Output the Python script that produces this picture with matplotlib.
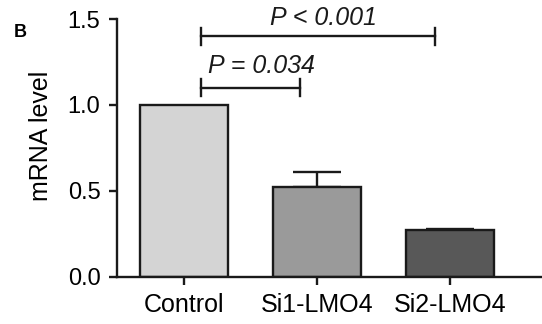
import numpy as np
import matplotlib.pyplot as plt

plt.rcParams['font.family'] = ['Liberation Sans', 'DejaVu Sans']

# data
groups = ['Control', 'Si1-LMO4', 'Si2-LMO4']
mrna = [1.0, 0.52, 0.273]
err = [0.0, 0.09, 0.004]
bar_colors = ['#d4d4d4', '#9a9a9a', '#585858']

# significance brackets: (x1, x2, y, label)
brackets = [(0.13, 0.87, 1.10, 'P = 0.034'),
            (0.13, 1.89, 1.40, 'P < 0.001')]

fig = plt.figure(figsize=(5.42, 3.24), dpi=100)
ax = fig.add_axes([0.216, 0.146, 0.784, 0.795])

x = np.arange(len(groups))
ax.bar(x, mrna, width=0.66, color=bar_colors, edgecolor='#1a1a1a',
       linewidth=1.7, zorder=2)
ax.errorbar(x[1:], mrna[1:], yerr=[np.zeros(2), err[1:]], fmt='none',
            ecolor='#1a1a1a', elinewidth=1.7, capsize=17, capthick=1.7, zorder=1)

for x1, x2, y, lab in brackets:
    ax.plot([x1, x2], [y, y], color='#1a1a1a', lw=1.7, clip_on=False)
    ax.plot([x1, x1], [y - 0.05, y + 0.05], color='#1a1a1a', lw=1.7, clip_on=False)
    ax.plot([x2, x2], [y - 0.05, y + 0.05], color='#1a1a1a', lw=1.7, clip_on=False)

ax.text(0.584, 1.186, brackets[0][3], ha='center', va='baseline',
        fontsize=18, style='italic', color='#1a1a1a')
ax.text(1.05, 1.463, brackets[1][3], ha='center', va='baseline',
        fontsize=18, style='italic', color='#1a1a1a')

ax.set_xlim(-0.5, 2.69)
ax.set_ylim(0, 1.5)
ax.set_yticks([0.0, 0.5, 1.0, 1.5])
ax.set_yticklabels(['0.0', '0.5', '1.0', '1.5'])
ax.set_xticks(x)
ax.set_xticklabels(groups)

for s in ['top', 'right']:
    ax.spines[s].set_visible(False)
for s in ['left', 'bottom']:
    ax.spines[s].set_linewidth(1.7)
    ax.spines[s].set_color('#1a1a1a')

ax.tick_params(axis='y', length=6, width=1.7, labelsize=17, pad=6, color='#1a1a1a')
ax.tick_params(axis='x', length=6, width=1.7, labelsize=18, pad=6, color='#1a1a1a')

ax.set_ylabel('mRNA level', fontsize=18)
ax.yaxis.set_label_coords(-0.15, 0.546)
fig.text(0.037, 0.90, 'B', fontsize=13, fontweight='bold', ha='center', va='center')

fig.savefig('out.png', dpi=100)
